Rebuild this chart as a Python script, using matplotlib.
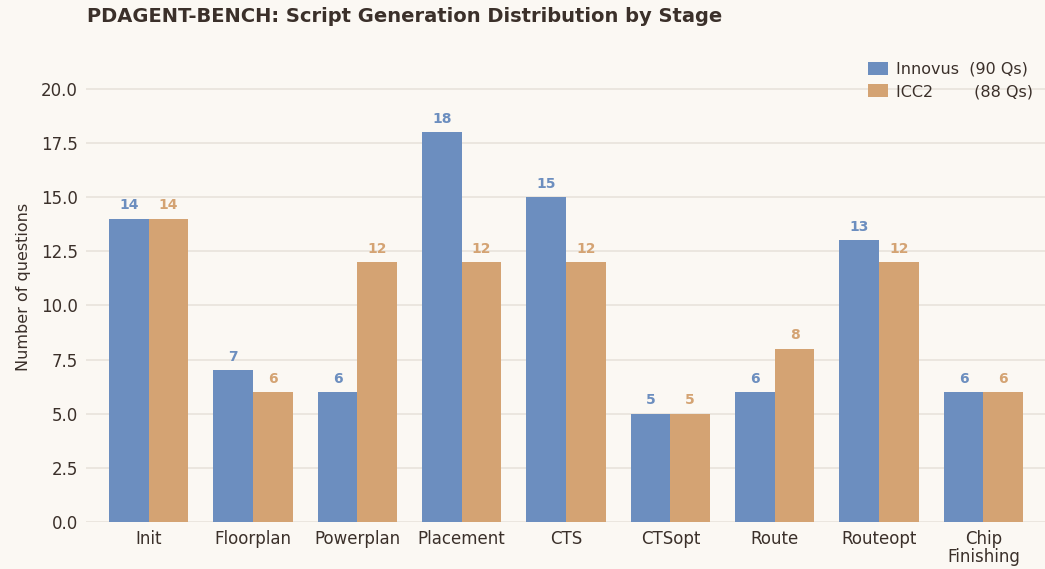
import numpy as np
import matplotlib
matplotlib.use("Agg")
import matplotlib.pyplot as plt

# data
stages = ["Init", "Floorplan", "Powerplan", "Placement", "CTS", "CTSopt",
          "Route", "Routeopt", "Chip\nFinishing"]
innovus = [14, 7, 6, 18, 15, 5, 6, 13, 6]
icc2 = [14, 6, 12, 12, 12, 5, 8, 12, 6]
innovus_label = "Innovus  (90 Qs)"
icc2_label = "ICC2        (88 Qs)"

bg = "#FBF8F3"
blue = "#6C8EBF"
orange = "#D4A373"
txt = "#3B302A"

fig = plt.figure(figsize=(10.45, 5.69), dpi=100, facecolor=bg)
ax = fig.add_axes([86 / 1045, 47 / 569, 960 / 1045, 470 / 569], facecolor=bg)

x = np.arange(len(stages))
w = 0.38
b1 = ax.bar(x - w / 2, innovus, w, color=blue, label=innovus_label, zorder=3)
b2 = ax.bar(x + w / 2, icc2, w, color=orange, label=icc2_label, zorder=3)

for bars, col in ((b1, blue), (b2, orange)):
    for r in bars:
        ax.text(r.get_x() + r.get_width() / 2, r.get_height() + 0.3,
                f"{int(r.get_height())}", ha="center", va="bottom",
                fontsize=10, fontweight="bold", color=col)

ax.set_xlim(-0.6, 8.6)
ax.set_ylim(0, 21.7)
ax.set_yticks(np.arange(0, 20.1, 2.5))
ax.set_xticks(x)
ax.set_xticklabels(stages, fontsize=12, color=txt, linespacing=1.0)
ax.tick_params(axis="y", labelsize=12, colors=txt, length=0, pad=6)
ax.tick_params(axis="x", length=0, pad=6)
for s in ax.spines.values():
    s.set_visible(False)
ax.yaxis.grid(True, color="#E8E3DC", linewidth=1.2, zorder=0)
ax.set_axisbelow(True)
ax.set_ylabel("Number of questions", fontsize=11.5, color=txt, labelpad=7)

leg = ax.legend(loc="upper right", frameon=False, fontsize=11.5,
                handlelength=1.3, handleheight=0.9, handletextpad=0.45,
                borderaxespad=0.2, labelspacing=0.45,
                bbox_to_anchor=(0.996, 1.0))
for t in leg.get_texts():
    t.set_color(txt)

fig.text(87 / 1045, 1 - 16 / 569, "PDAGENT-BENCH: Script Generation Distribution by Stage",
         fontsize=14, fontweight="bold", color=txt, ha="left", va="center")

fig.savefig("out.png", dpi=100, facecolor=bg)
